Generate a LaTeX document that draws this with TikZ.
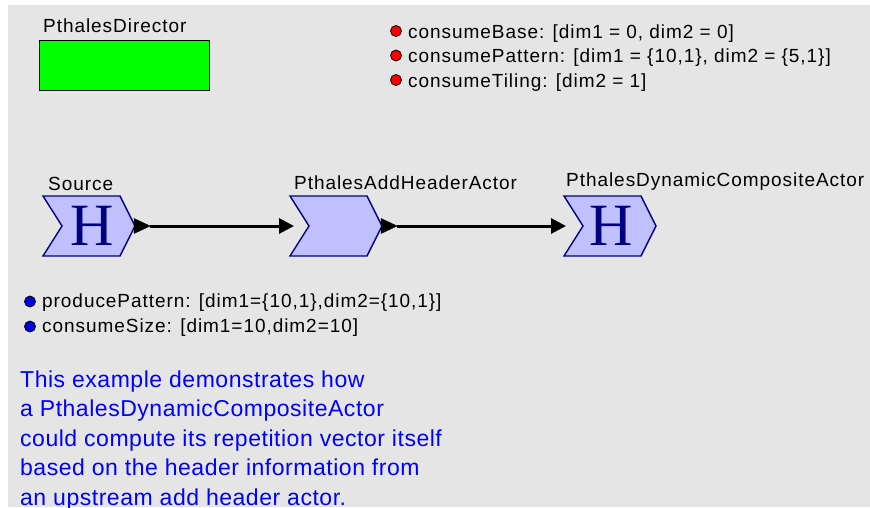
\documentclass[tikz,border=0pt]{standalone}
\usepackage{fontspec}
\setmainfont{Liberation Sans}
\newfontfamily\labfont[LetterSpace=5]{Liberation Sans}
\newfontfamily\notefont[LetterSpace=2.3]{Liberation Sans}
\newfontfamily\glyphfont{Liberation Serif}
\usetikzlibrary{arrows.meta}
\definecolor{canvas}{HTML}{E5E5E5}
\definecolor{actorfill}{HTML}{C0C0FF}
\definecolor{actoredge}{HTML}{000080}
\definecolor{dirgreen}{HTML}{00FF00}
\definecolor{noteblue}{HTML}{0000E0}
\tikzset{
  lab/.style={anchor=base west, inner sep=0pt, font=\labfont\fontsize{19}{22}\selectfont},
  note/.style={anchor=base west, inner sep=0pt, text=blue, font=\notefont\fontsize{23}{29.3}\selectfont},
  glyph/.style={anchor=base, inner sep=0pt, text=actoredge, font=\glyphfont\fontsize{60}{60}\selectfont},
  actorbody/.style={fill=actorfill, draw=actoredge, line width=1.4pt, line join=miter},
  portmark/.style={fill=black, draw=black, line width=0.5pt},
  wire/.style={line width=3pt, -{Triangle[length=15pt, width=15pt]}},
  dot/.style={circle, draw=black, line width=0.8pt, minimum size=11pt, inner sep=0pt}
}
% actor outline: #1 = left x, #2 = centre y
\newcommand{\actorshape}[2]{%
  \path[actorbody] (#1,#2-30) -- ++(77,0) -- ++(15,30) -- ++(-15,30) -- ++(-77,0) -- ++(19,-30) -- cycle;}
\begin{document}
\begin{tikzpicture}[x=1pt, y=-1pt]
  \useasboundingbox (0,0) rectangle (870,507);
  \fill[white] (0,0) rectangle (870,507);
  \fill[canvas] (8,5) rectangle (870,507);

  % director
  \node[lab] (dirlab) at (43,32) {PthalesDirector};
  \node[draw=black, line width=1.2pt, fill=dirgreen, minimum width=170pt, minimum height=50pt, inner sep=0pt, anchor=north west] (dir) at (39,40) {};

  % red parameter notes
  \node[dot, fill=red] (r1) at (396,31) {};
  \node[dot, fill=red] (r2) at (396,55.5) {};
  \node[dot, fill=red] (r3) at (396,80) {};
  \node[lab] (t1) at (408,38) {consumeBase: [dim1 = 0, dim2 = 0]};
  \node[lab] (t2) at (408,62.5) {consumePattern: [dim1 = \{10,1\}, dim2 = \{5,1\}]};
  \node[lab] (t3) at (408,87) {consumeTiling: [dim2 = 1]};

  % actors
  \actorshape{43}{226}
  \actorshape{290}{226}
  \actorshape{564}{226}
  \node[glyph] (src) at (92,245) {H};
  \node[inner sep=0pt] (add) at (339,226) {};
  \node[glyph] (dyn) at (611,245) {H};
  \node[lab] (srclab) at (48,190) {Source};
  \node[lab] (addlab) at (294,189) {PthalesAddHeaderActor};
  \node[lab] (dynlab) at (566,186) {PthalesDynamicCompositeActor};

  % ports
  \coordinate (srcout) at (134,226);
  \coordinate (addin) at (294,226);
  \coordinate (addout) at (381,226);
  \coordinate (dynin) at (566,226);
  \fill[portmark] (srcout) ++(0,-7.5) -- ++(16,7.5) coordinate (srctip) -- ++(-16,7.5) -- cycle;
  \fill[portmark] (addout) ++(0,-7.5) -- ++(16,7.5) coordinate (addtip) -- ++(-16,7.5) -- cycle;

  % connections
  \draw[wire] (srctip) -- (addin);
  \draw[wire] (addtip) -- (dynin);

  % blue parameter notes
  \node[dot, fill=noteblue] (b1) at (30,301.5) {};
  \node[dot, fill=noteblue] (b2) at (30,326.5) {};
  \node[lab] (t4) at (42,307) {producePattern: [dim1=\{10,1\},dim2=\{10,1\}]};
  \node[lab] (t5) at (42,332) {consumeSize: [dim1=10,dim2=10]};

  % description
  \node[note] (d1) at (20,387) {This example demonstrates how};
  \node[note] (d2) at (20,416.6) {a PthalesDynamicCompositeActor};
  \node[note] (d3) at (20,446.2) {could compute its repetition vector itself};
  \node[note] (d4) at (20,475.8) {based on the header information from};
  \node[note] (d5) at (20,505.4) {an upstream add header actor.};
\end{tikzpicture}
\end{document}
